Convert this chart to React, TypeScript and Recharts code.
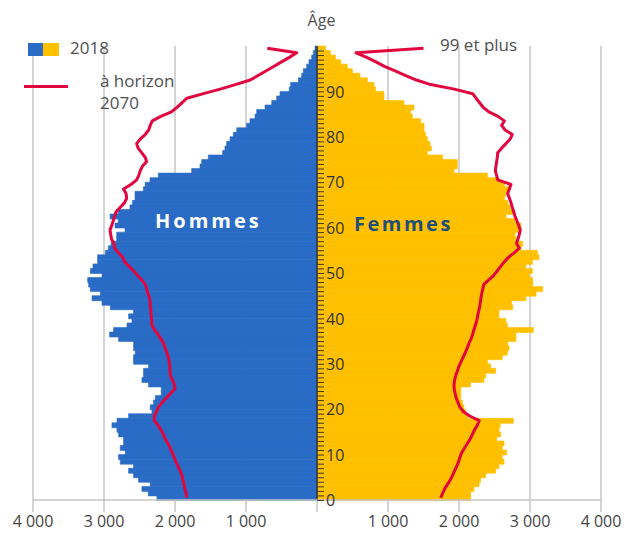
import React from 'react';
import { ComposedChart, Bar, Line, XAxis, YAxis, CartesianGrid, ReferenceLine, LabelList } from 'recharts';

const ages: number[] = Array.from({ length: 100 }, (_, i) => i);

const men2018: number[] = [
  2255, 2377, 2466, 2349, 2513, 2584, 2654, 2584, 2771, 2795,
  2700, 2771, 2724, 2724, 2795, 2818, 2888, 2817, 2654, 2325,
  2349, 2302, 2278, 2194, 2194, 2373, 2466, 2443, 2443, 2373,
  2584, 2584, 2560, 2583, 2583, 2794, 2921, 2865, 2676, 2606,
  2654, 2584, 2911, 3028, 3169, 3052, 3193, 3216, 3230, 3028,
  3193, 3155, 3090, 3090, 2980, 2939, 2900, 2821, 2821, 2704,
  2845, 2800, 2915, 2800, 2634, 2600, 2563, 2563, 2446, 2420,
  2352, 2235, 1765, 1648, 1624, 1531, 1329, 1296, 1272, 1225,
  1178, 1131, 991, 944, 873, 850, 732, 638, 568, 521,
  390, 371, 263, 216, 193, 146, 113, 75, 52, 28,
];

const women2018: number[] = [
  2164, 2164, 2211, 2282, 2305, 2376, 2516, 2563, 2634, 2610,
  2671, 2610, 2634, 2531, 2587, 2563, 2580, 2765, 2117, 2094,
  2070, 2047, 2024, 2024, 2024, 2160, 2352, 2376, 2516, 2446,
  2399, 2610, 2681, 2704, 2686, 2803, 2803, 3047, 2681, 2660,
  2563, 2563, 2756, 2740, 2944, 3085, 3179, 3038, 3038, 2990,
  3033, 2944, 3033, 3127, 3104, 2873, 2897, 2803, 2790, 2863,
  2873, 2790, 2662, 2756, 2720, 2686, 2640, 2660, 2700, 2640,
  2563, 2399, 1930, 1977, 1977, 1770, 1554, 1610, 1591, 1554,
  1530, 1507, 1507, 1460, 1343, 1319, 1366, 1225, 944, 944,
  826, 803, 709, 605, 498, 427, 333, 260, 190, 120,
];

const men2070: number[] = [
  1835, 1845, 1860, 1875, 1890, 1905, 1930, 1960, 1990, 2015,
  2040, 2070, 2100, 2140, 2165, 2200, 2240, 2290, 2290, 2260,
  2230, 2180, 2120, 2060, 2000, 2010, 2040, 2065, 2070, 2075,
  2080, 2095, 2115, 2140, 2160, 2200, 2240, 2290, 2325, 2330,
  2335, 2340, 2345, 2350, 2360, 2380, 2400, 2420, 2470, 2530,
  2585, 2650, 2710, 2740, 2800, 2850, 2860, 2895, 2905, 2915,
  2890, 2870, 2850, 2830, 2770, 2710, 2680, 2690, 2725, 2620,
  2540, 2510, 2490, 2460, 2400, 2420, 2470, 2520, 2540, 2490,
  2420, 2370, 2349, 2320, 2200, 2050, 1973, 1900, 1833, 1600,
  1364, 1150, 940, 830, 720, 610, 500, 390, 286, 700,
];

const women2070: number[] = [
  1742, 1770, 1800, 1840, 1880, 1910, 1940, 1970, 1995, 2015,
  2040, 2080, 2120, 2160, 2190, 2220, 2260, 2285, 2150, 2060,
  2010, 1985, 1960, 1945, 1932, 1930, 1940, 1955, 1980, 2000,
  2030, 2060, 2090, 2117, 2140, 2170, 2193, 2210, 2230, 2250,
  2263, 2275, 2290, 2300, 2310, 2320, 2335, 2350, 2420, 2490,
  2540, 2590, 2640, 2700, 2780, 2850, 2810, 2830, 2850, 2863,
  2840, 2815, 2790, 2770, 2750, 2732, 2710, 2685, 2710, 2732,
  2545, 2530, 2512, 2520, 2530, 2540, 2545, 2600, 2662, 2720,
  2750, 2650, 2600, 2638, 2550, 2420, 2340, 2290, 2240, 2193,
  1934, 1600, 1400, 1250, 1100, 950, 830, 700, 549, 1500,
];

const xTicks: number[] = [-4000, -3000, -2000, -1000, 0, 1000, 2000, 3000, 4000];
const ageLabelStep = 10;

const rows = ages.map((age, i) => ({
  age,
  m2018: -men2018[i],
  f2018: women2018[i],
  m2070: -men2070[i],
  f2070: women2070[i],
}));

const CHART_W = 643;
const CHART_H = 537;
const MARGIN = { top: 46, right: 42, bottom: 7, left: 33 };
const X_AXIS_H = 30;

const FONT = '"Open Sans", "Noto Sans", sans-serif';
const TEXT_COLOR = '#505050';
const BLUE = '#2a6bc6';
const YELLOW = '#ffc000';
const RED = '#e2063f';

const fmtX = (v: number) => {
  if (v === 0) return '';
  const a = Math.abs(v);
  return `${Math.floor(a / 1000)}\u00A0${String(a % 1000).padStart(3, '0')}`;
};

// Age axis ticks drawn from each women's bar geometry: bar starts at value 0 (the centre axis).
function AgeTick(props: any) {
  const { x, y, height, value } = props;
  const cx = Number(x);
  const yb = Number(y) + Number(height);
  const v = Number(value);
  return (
    <g>
      <line x1={cx} x2={cx + 7} y1={yb} y2={yb} stroke="#3a3a2a" strokeWidth={1} />
      {v % ageLabelStep === 0 && (
        <text
          x={cx + 9}
          y={yb}
          dy="0.36em"
          fill="#333"
          fontSize={16}
          fontFamily={FONT}
          textAnchor="start"
        >
          {v}
        </text>
      )}
    </g>
  );
}

export default function App() {
  const abs: React.CSSProperties = {
    position: 'absolute',
    fontFamily: FONT,
    color: TEXT_COLOR,
    whiteSpace: 'nowrap',
  };
  return (
    <div style={{ position: 'absolute', left: 0, top: 0, width: CHART_W, height: CHART_H, background: '#fff' }}>
      <ComposedChart
        layout="vertical"
        width={CHART_W}
        height={CHART_H}
        data={rows}
        margin={MARGIN}
        barCategoryGap={0}
        barGap={0}
        stackOffset="sign"
      >
        <CartesianGrid horizontal={false} vertical stroke="#c6c6c6" strokeWidth={1.5} />
        <XAxis
          type="number"
          domain={[-4000, 4000]}
          ticks={xTicks}
          tickFormatter={fmtX}
          height={X_AXIS_H}
          tickSize={12}
          tickMargin={4}
          axisLine={{ stroke: '#c6c6c6', strokeWidth: 1.5 }}
          tickLine={{ stroke: '#c6c6c6', strokeWidth: 1.5 }}
          tick={{ fill: '#444', fontSize: 16, fontFamily: FONT }}
          allowDataOverflow
        />
        <YAxis type="category" dataKey="age" reversed hide />
        <Bar dataKey="m2018" stackId="p" fill={BLUE} stroke={BLUE} strokeWidth={0.6} isAnimationActive={false} />
        <Bar dataKey="f2018" stackId="p" fill={YELLOW} stroke={YELLOW} strokeWidth={0.6} isAnimationActive={false}>
          <LabelList dataKey="age" content={AgeTick} />
        </Bar>
        <Line
          dataKey="m2070"
          type="linear"
          stroke={RED}
          strokeWidth={3}
          dot={false}
          isAnimationActive={false}
          strokeLinejoin="round"
        />
        <Line
          dataKey="f2070"
          type="linear"
          stroke={RED}
          strokeWidth={3}
          dot={false}
          isAnimationActive={false}
          strokeLinejoin="round"
        />
        <ReferenceLine x={0} stroke="#1f2b45" strokeWidth={1.5} />
      </ComposedChart>

      <div style={{ ...abs, left: 0, width: CHART_W, top: 9, textAlign: 'center', fontSize: 16, lineHeight: '22px' }}>Âge</div>

      <div style={{ position: 'absolute', left: 28, top: 43, width: 15, height: 13, background: BLUE }} />
      <div style={{ position: 'absolute', left: 43, top: 43, width: 16, height: 13, background: YELLOW }} />
      <div style={{ ...abs, left: 70, top: 37, fontSize: 17, lineHeight: '22px' }}>2018</div>

      <div style={{ position: 'absolute', left: 24, top: 85, width: 44, height: 3, background: RED }} />
      <div style={{ ...abs, left: 100, top: 70, fontSize: 17, lineHeight: '22px' }}>
        à horizon
        <br />
        2070
      </div>

      <div style={{ ...abs, left: 440, top: 34, fontSize: 17, lineHeight: '22px' }}>99 et plus</div>

      <div style={{ ...abs, left: 155, top: 208, fontSize: 20, lineHeight: '26px', fontWeight: 700, color: '#ffffff', letterSpacing: 3 }}>
        Hommes
      </div>
      <div style={{ ...abs, left: 354, top: 211, fontSize: 20, lineHeight: '26px', fontWeight: 700, color: '#1f4e79', letterSpacing: 2.5 }}>
        Femmes
      </div>
    </div>
  );
}
